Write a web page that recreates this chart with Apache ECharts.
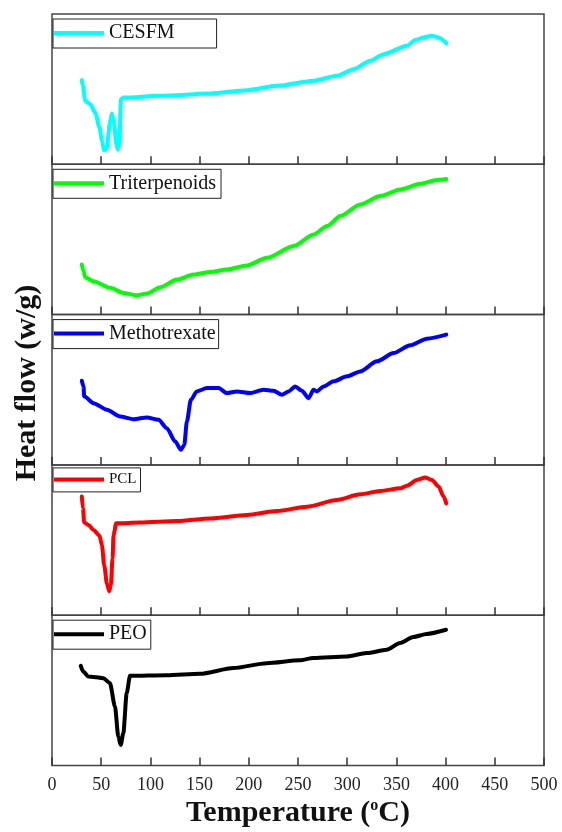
<!DOCTYPE html>
<html>
<head>
<meta charset="utf-8">
<script src="https://cdn.jsdelivr.net/npm/echarts@6/dist/echarts.min.js"></script>
<style>
  html, body { margin: 0; padding: 0; background: #fff; }
  #chart { width: 562px; height: 832px; }
</style>
</head>
<body>
<div id="chart"></div>
<script>
// DSC thermograms, heat flow in relative units (each panel 0–10), temperature in °C
const xTickValues = [0, 50, 100, 150, 200, 250, 300, 350, 400, 450, 500];

const cesfmT = [30.3, 31.4, 33.7, 38.8, 43.9, 48.3, 50.7, 53.0, 55.8, 58.5, 60.8, 63.2, 65.2, 66.9, 68.6, 70.0, 72.7, 110, 160.8, 198, 228.5, 265.8, 289.5, 306.5, 323.4, 337, 360.7, 369.2, 377.6, 386.1, 392.9, 400.7];
const cesfmV = [5.6, 5.22, 4.22, 4.0, 3.44, 2.44, 1.56, 0.93, 1.11, 2.67, 3.38, 2.67, 1.33, 1.0, 1.56, 4.33, 4.44, 4.56, 4.71, 4.93, 5.22, 5.56, 5.89, 6.33, 6.89, 7.33, 7.89, 8.27, 8.44, 8.56, 8.44, 8.07];

const triterpT = [30.3, 32.0, 33.7, 42.2, 59.1, 72.7, 86.3, 96.4, 110, 126.9, 143.8, 160.8, 177.7, 198, 218.4, 245.5, 265.8, 279.4, 292.9, 313.2, 333.6, 353.9, 374.2, 391.2, 400.7];
const triterpV = [3.33, 2.89, 2.49, 2.22, 1.78, 1.44, 1.29, 1.4, 1.82, 2.33, 2.67, 2.84, 3.0, 3.27, 3.78, 4.56, 5.33, 5.89, 6.56, 7.33, 7.89, 8.33, 8.71, 8.96, 9.02];

const mtxT = [30.3, 32.0, 32.7, 42.2, 55.8, 69.3, 82.9, 96.4, 108.3, 116.7, 125.2, 131.0, 134.4, 137.1, 141.1, 147.2, 157.4, 169.3, 177.7, 187.9, 201.4, 215, 225.2, 233.6, 240.4, 247.2, 254, 260.7, 265.8, 269.2, 276, 286.2, 299.7, 313.3, 330.2, 347.1, 364.1, 381, 400.7];
const mtxV = [5.6, 5.22, 4.56, 4.11, 3.67, 3.22, 3.04, 3.16, 3.0, 2.44, 1.56, 1.0, 1.33, 2.89, 4.33, 4.89, 5.11, 5.11, 4.78, 4.89, 4.78, 5.0, 4.93, 4.67, 4.89, 5.22, 4.93, 4.44, 5.0, 4.89, 5.22, 5.56, 5.89, 6.22, 6.89, 7.44, 7.96, 8.4, 8.67];

const pclT = [30.3, 31.4, 32.7, 37.1, 42.2, 48.3, 50.7, 53.0, 55.8, 58.1, 59.8, 61.5, 62.5, 65.2, 89.6, 126.9, 160.8, 198, 228.5, 259, 289.5, 313.2, 333.6, 353.9, 360.7, 370.9, 379.3, 386.1, 392.9, 398, 400.7];
const pclV = [7.89, 7.11, 6.18, 6.0, 5.67, 5.29, 4.67, 3.33, 2.11, 1.6, 2.0, 3.78, 5.33, 6.11, 6.16, 6.27, 6.44, 6.67, 6.93, 7.22, 7.67, 8.04, 8.27, 8.44, 8.62, 9.0, 9.16, 9.0, 8.56, 7.89, 7.44];

const peoT = [29.2, 31.8, 36.9, 52.2, 58.9, 64.0, 67.4, 69.8, 72.5, 75.9, 79.3, 116.6, 150.4, 184.3, 218.2, 252, 265.6, 299.5, 319.8, 340.1, 353.7, 367.2, 380.8, 400.4];
const peoV = [6.63, 6.25, 5.92, 5.81, 5.48, 3.92, 1.92, 1.37, 2.15, 4.81, 5.97, 6.01, 6.1, 6.48, 6.81, 7.0, 7.15, 7.25, 7.48, 7.7, 8.15, 8.55, 8.75, 9.03];

const sampleNames = ['CESFM', 'Triterpenoids', 'Methotrexate', 'PCL', 'PEO'];
const sampleT = [cesfmT, triterpT, mtxT, pclT, peoT];
const sampleV = [cesfmV, triterpV, mtxV, pclV, peoV];

// styling
const lineColors = ['#00ffff', '#00ff00', '#0000ff', '#ff0000', '#000000'];
const legendFontSizes = [20, 20, 20, 15, 20];
const legendRightPad = [42, 5, 3, 4, 4];
const legendTopOffset = [5, 5, 5, 3, 5];
const serif = "'Liberation Serif', 'Times New Roman', serif";

const gridTop0 = 14, panelH = 150.3;

const grids = [], xAxes = [], yAxes = [], series = [], legends = [];
sampleNames.forEach((name, i) => {
  const top = gridTop0 + i * panelH;
  const last = i === sampleNames.length - 1;
  grids.push({
    left: 52, right: 18, top: top, height: panelH,
    show: true, borderColor: '#444', borderWidth: 1.5, backgroundColor: 'transparent'
  });
  xAxes.push({
    gridIndex: i, type: 'value', min: 0, max: 500, interval: 50,
    axisLine: { show: false },
    axisTick: { show: true, inside: true, length: 8, lineStyle: { color: '#333', width: 1.5 } },
    axisLabel: { show: last, margin: 11, fontFamily: serif, fontSize: 18, color: '#222' },
    splitLine: { show: false },
    name: last ? '{a|Temperature (}{s|o}{a|C)}' : '',
    nameLocation: 'middle', nameGap: 32,
    nameTextStyle: {
      rich: {
        a: { fontFamily: serif, fontSize: 30, fontWeight: 'bold', color: '#111', lineHeight: 32 },
        s: { fontFamily: serif, fontSize: 16, fontWeight: 'bold', color: '#111', verticalAlign: 'top', lineHeight: 32, padding: [0, 0, 9, 0] }
      }
    }
  });
  yAxes.push({ gridIndex: i, type: 'value', min: 0, max: 10, show: false });
  series.push({
    name: name, type: 'line', xAxisIndex: i, yAxisIndex: i,
    data: sampleT[i].map((t, k) => [t, sampleV[i][k]]),
    showSymbol: false, smooth: 0.25, smoothMonotone: 'x',
    lineStyle: { color: lineColors[i], width: 4, cap: 'round', join: 'round' },
    itemStyle: { color: lineColors[i] },
    z: 2
  });
  legends.push({
    data: [name], left: 53, top: top + legendTopOffset[i],
    icon: 'rect', itemWidth: 50, itemHeight: 4, itemGap: 0,
    padding: [4, legendRightPad[i], 5, 1],
    borderColor: '#222', borderWidth: 1, backgroundColor: '#fff',
    selectedMode: false,
    textStyle: { fontFamily: serif, fontSize: legendFontSizes[i], color: '#111' },
    z: 5
  });
});

const chart = echarts.init(document.getElementById('chart'), null, { renderer: 'canvas' });
chart.setOption({
  animation: false,
  backgroundColor: '#fff',
  grid: grids,
  xAxis: xAxes,
  yAxis: yAxes,
  series: series,
  legend: legends,
  graphic: [{
    type: 'text', x: 27, y: 383, rotation: Math.PI / 2,
    style: {
      text: 'Heat flow (w/g)', font: "bold 30px 'Liberation Serif', 'Times New Roman', serif",
      fill: '#111', textAlign: 'center', textVerticalAlign: 'middle'
    }
  }]
});
</script>
</body>
</html>
